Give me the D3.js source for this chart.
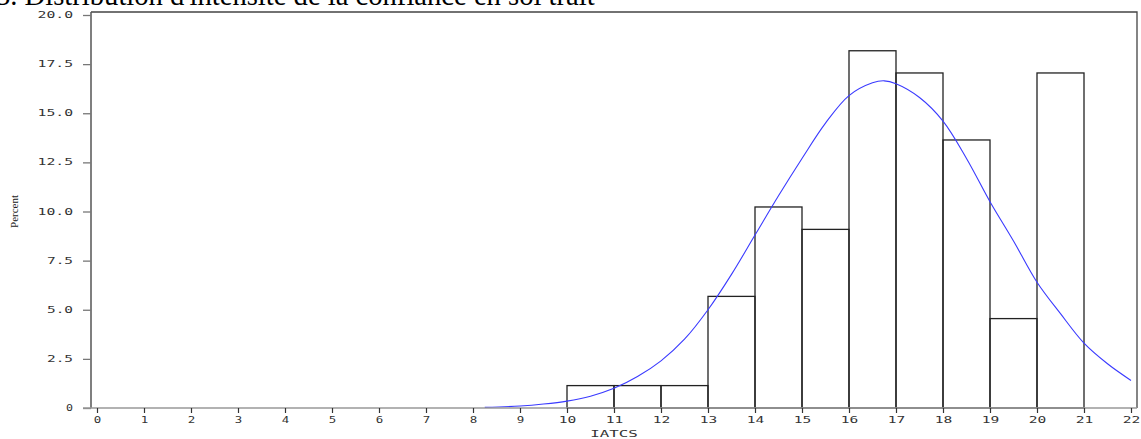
<!DOCTYPE html>
<html>
<head>
<meta charset="utf-8">
<script src="https://cdn.jsdelivr.net/npm/d3@7"></script>
<style>
  html, body { margin: 0; padding: 0; background: #fff; overflow: hidden; }
  svg { display: block; }
</style>
</head>
<body>
<div id="chart"></div>
<script>
// histogram bins (IATCS, width 1) and percent per bin
const binStarts = [10, 11, 12, 13, 14, 15, 16, 17, 18, 19, 20];
const binPercent = [1.14, 1.14, 1.14, 5.68, 10.23, 9.09, 18.18, 17.05, 13.64, 4.55, 17.05];

// fitted normal curve
const curveX = [8.25, 9, 9.5, 10, 10.5, 11, 11.5, 12, 12.5, 13, 13.5, 14, 14.5, 15, 15.5, 16, 16.5, 16.75, 17, 17.5, 18, 18.5, 19, 19.5, 20, 20.5, 21, 21.5, 22];
const curveY = [0.03, 0.1, 0.2, 0.35, 0.6, 1.0, 1.6, 2.4, 3.5, 5.0, 6.8, 8.8, 10.8, 12.7, 14.5, 15.9, 16.55, 16.65, 16.5, 15.8, 14.6, 12.7, 10.5, 8.5, 6.4, 4.8, 3.3, 2.25, 1.4];

const xTicks = d3.range(0, 23);
const yTicks = [0, 2.5, 5, 7.5, 10, 12.5, 15, 17.5, 20];

const title = "3. Distribution d'intensité de la confiance en soi trait";

const width = 1141, height = 439;

const svg = d3.select("#chart")
  .append("svg")
  .attr("width", width)
  .attr("height", height);

const x = d3.scaleLinear().domain([0, 22]).range([97, 1131]);
const y = d3.scaleLinear().domain([0, 20]).range([408, 15]);

const frame = { left: 91, right: 1137, top: 12, bottom: 408 };

// title, cut off at the top as in the original
const t = svg.append("text")
  .attr("x", -4)
  .attr("y", 5)
  .style("font-family", "'Liberation Serif', 'Times New Roman', serif")
  .style("font-size", "26px")
  .style("fill", "#000")
  .text(title);
const tl = t.node().getComputedTextLength();
t.style("font-size", (26 * 599 / tl) + "px");

// frame (top and right)
svg.append("path")
  .attr("d", `M${frame.left},${frame.top}H${frame.right}V${frame.bottom}`)
  .attr("fill", "none")
  .attr("stroke", "#444")
  .attr("stroke-width", 1.3);

// bars
svg.append("g")
  .selectAll("rect")
  .data(binStarts)
  .join("rect")
  .attr("x", (d) => x(d))
  .attr("y", (d, i) => y(binPercent[i]))
  .attr("width", (d) => x(d + 1) - x(d))
  .attr("height", (d, i) => y(0) - y(binPercent[i]))
  .attr("fill", "none")
  .attr("stroke", "#222")
  .attr("stroke-width", 1.3);

// normal curve
const line = d3.line()
  .x((d) => x(d[0]))
  .y((d) => y(d[1]))
  .curve(d3.curveCatmullRom);

svg.append("path")
  .datum(d3.zip(curveX, curveY))
  .attr("d", line)
  .attr("fill", "none")
  .attr("stroke", "#3a3aff")
  .attr("stroke-width", 1.1);

// SAS style wide, short glyphs
const tickFont = "'DejaVu Sans Mono', monospace";
const widen = (sel, perChar) => sel
  .style("font-family", tickFont)
  .style("font-size", "8px")
  .style("fill", "#333")
  .attr("lengthAdjust", "spacingAndGlyphs")
  .attr("textLength", function () { return this.textContent.length * perChar - 2.5; });

// y axis
const yAxis = svg.append("g")
  .attr("transform", `translate(${frame.left},0)`)
  .call(d3.axisLeft(y).tickValues(yTicks).tickSize(8).tickPadding(10)
    .tickFormat((d) => d === 0 ? "0" : d3.format(".1f")(d)));
yAxis.select(".domain").attr("d", `M0,${frame.top}V${frame.bottom}`).attr("stroke", "#555").attr("stroke-width", 1.5);
yAxis.selectAll(".tick line").attr("stroke", "#777").attr("stroke-width", 1.3);
widen(yAxis.selectAll(".tick text"), 9.5);

// x axis
const xAxis = svg.append("g")
  .attr("transform", `translate(0,${frame.bottom})`)
  .call(d3.axisBottom(x).tickValues(xTicks).tickSize(5).tickPadding(4));
xAxis.select(".domain").attr("d", `M${frame.left - 8},0H${frame.right}`).attr("stroke", "#999").attr("stroke-width", 1.5);
xAxis.selectAll(".tick line").attr("stroke", "#333").attr("stroke-width", 1.2);
widen(xAxis.selectAll(".tick text"), 10);

// axis labels
widen(svg.append("text")
  .attr("x", x(11))
  .attr("y", 437)
  .attr("text-anchor", "middle")
  .text("IATCS"), 10);

svg.append("text")
  .attr("transform", `translate(18,${y(10)}) rotate(-90)`)
  .attr("text-anchor", "middle")
  .style("font-family", "'Liberation Serif', serif")
  .style("font-size", "11px")
  .style("fill", "#222")
  .text("Percent");
</script>
</body>
</html>
